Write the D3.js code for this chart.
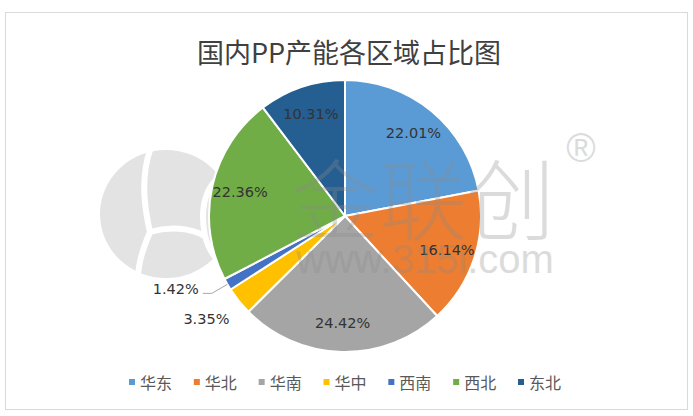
<!DOCTYPE html>
<html><head><meta charset="utf-8">
<script src="https://cdn.jsdelivr.net/npm/d3@7"></script>
<style>html,body{margin:0;padding:0;background:#fff;}svg{display:block;}</style>
</head><body>
<svg id="c" width="693" height="416"></svg>
<script>
const categories = ["华东","华北","华南","华中","西南","西北","东北"];
const values = [22.01,16.14,24.42,3.35,1.42,22.36,10.31];
const labels = ["22.01%","16.14%","24.42%","3.35%","1.42%","22.36%","10.31%"];
const colors = ["#5B9BD5","#ED7D31","#A5A5A5","#FFC000","#4472C4","#70AD47","#255E91"];
const title = "国内PP产能各区域占比图";

const svg = d3.select("#c");
const cx = 345, cy = 216, R = 136;
const cjk = "'Noto Sans CJK SC','Microsoft YaHei',sans-serif";

svg.append("rect").attr("x",5.5).attr("y",12.5).attr("width",682).attr("height",397)
  .attr("fill","#fff").attr("stroke","#d9d9d9").attr("stroke-width",1);

// watermark logo (behind pie)
const logo = svg.append("g").attr("fill","none");
logo.append("ellipse").attr("cx",166).attr("cy",214).attr("rx",66).attr("ry",64).attr("fill","#e3e3e3");
logo.append("path").attr("d","M150,150 C140,180 145,210 150,232 C140,255 135,275 140,290")
  .attr("stroke","#fff").attr("stroke-width",6);
logo.append("path").attr("d","M150,232 C170,226 190,228 205,236")
  .attr("stroke","#fff").attr("stroke-width",6);
logo.append("path").attr("d","M232,170 C210,178 198,200 205,236 C210,255 222,268 236,272")
  .attr("stroke","#fff").attr("stroke-width",6);

const pie = d3.pie().sort(null).value(d=>d).startAngle(0).endAngle(2*Math.PI);
const arcs = pie(values);
const arc = d3.arc().innerRadius(0).outerRadius(R);
const g = svg.append("g").attr("transform",`translate(${cx},${cy})`);
g.selectAll("path.s").data(arcs).enter().append("path").attr("class","s")
  .attr("d",arc).attr("fill",(d,i)=>colors[i]).attr("stroke","#fff").attr("stroke-width",2).attr("stroke-linejoin","round");

// watermark text (over pie, translucent)
const wm = svg.append("g").attr("fill","#8c8c8c").attr("opacity",0.3);
wm.append("text").attr("x",423).attr("y",194).attr("text-anchor","middle").attr("dominant-baseline","central")
  .attr("font-family",cjk).attr("font-size",88).attr("font-weight",300).text("金联创");
wm.append("text").attr("x",425).attr("y",273).attr("text-anchor","middle")
  .attr("font-family","'Liberation Sans',Arial,sans-serif").attr("font-size",40).text("www.315i.com");
wm.append("text").attr("x",581).attr("y",148).attr("text-anchor","middle").attr("dominant-baseline","central")
  .attr("font-family","'Liberation Sans',Arial,sans-serif").attr("font-size",40).text("®");

// labels
const inside = d3.arc().innerRadius(R*0.79).outerRadius(R*0.79);
const lblFont = "'DejaVu Sans',sans-serif";
arcs.forEach((d,i)=>{
  const frac = values[i]/d3.sum(values);
  const mid = (d.startAngle+d.endAngle)/2;
  if (frac > 0.05) {
    const [x,y] = inside.centroid(d);
    g.append("text").attr("x",x).attr("y",y).attr("text-anchor","middle").attr("dominant-baseline","central")
      .attr("font-family",lblFont).attr("font-size",14.5).attr("fill","#333").text(labels[i]);
  } else if (frac > 0.02) {
    const rr = R+34;
    g.append("text").attr("x",rr*Math.sin(mid)-6).attr("y",-rr*Math.cos(mid)-3).attr("text-anchor","middle").attr("dominant-baseline","central")
      .attr("font-family",lblFont).attr("font-size",14.5).attr("fill","#333").text(labels[i]);
  } else {
    const p0 = [R*Math.sin(mid), -R*Math.cos(mid)];
    const p1 = [(R+18)*Math.sin(mid), -(R+18)*Math.cos(mid)];
    const p2 = [p1[0]-9, p1[1]];
    g.append("polyline").attr("points",[p0,p1,p2].map(p=>p.join(",")).join(" "))
      .attr("fill","none").attr("stroke","#a6a6a6").attr("stroke-width",1);
    g.append("text").attr("x",p2[0]-4).attr("y",p2[1]-4).attr("text-anchor","end").attr("dominant-baseline","central")
      .attr("font-family",lblFont).attr("font-size",14.5).attr("fill","#333").text(labels[i]);
  }
});

// title
svg.append("text").attr("x",349).attr("y",51).attr("text-anchor","middle").attr("dominant-baseline","central")
  .attr("font-family",cjk).attr("font-size",27).attr("fill","#404040").text(title);

// legend
const lx = d3.scalePoint().domain(categories).range([129,518]);
const lg = svg.append("g");
categories.forEach((c,i)=>{
  const x = lx(c);
  lg.append("rect").attr("x",x).attr("y",379).attr("width",6).attr("height",6).attr("fill",colors[i]);
  lg.append("text").attr("x",x+11).attr("y",382).attr("dominant-baseline","central")
    .attr("font-family",cjk).attr("font-size",16).attr("fill","#595959").text(c);
});
</script>
</body></html>
